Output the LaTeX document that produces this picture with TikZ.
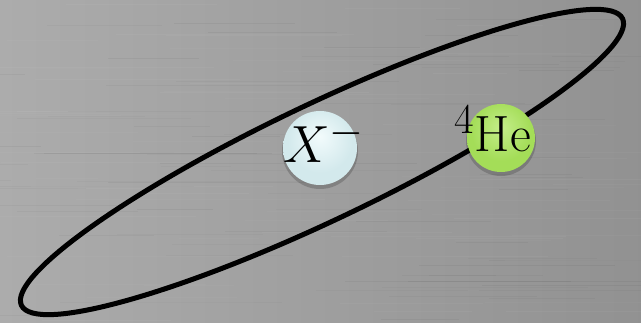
\documentclass[tikz,border=0pt]{standalone}
\usepackage{graphicx}
\usetikzlibrary{shadings}
\definecolor{xhi}{HTML}{F2FBFC}
\definecolor{xmid}{HTML}{D3E9EC}
\definecolor{xedge}{HTML}{A2BFC2}
\definecolor{ghi}{HTML}{C4EE8A}
\definecolor{gmid}{HTML}{A4DD58}
\definecolor{gedge}{HTML}{76AE34}
\pgfdeclareradialshading{xballshade}{\pgfpoint{0bp}{8bp}}{color(0bp)=(xhi); color(22bp)=(xmid); color(42bp)=(xmid); color(52bp)=(xedge); color(62bp)=(xedge)}
\pgfdeclareradialshading{gballshade}{\pgfpoint{0bp}{8bp}}{color(0bp)=(ghi); color(22bp)=(gmid); color(42bp)=(gmid); color(52bp)=(gedge); color(62bp)=(gedge)}
\tikzset{
  ballshadow/.style={fill=black, fill opacity=0.18, draw=none},
  orbit/.style={draw=black, line width=5pt},
  lab/.style={inner sep=0pt, anchor=base west},
  streak/.style={line width=1pt}
}
\begin{document}
\begin{tikzpicture}[x=1pt,y=1pt]
\useasboundingbox (0,0) rectangle (641,322);
% background
\shade[left color=black!35!white!93, right color=black!43] (0,0) rectangle (641,322);
\pgfmathsetseed{7}
\foreach \i in {1,...,140}{
  \pgfmathsetmacro{\yy}{rnd*322}
  \pgfmathsetmacro{\xx}{rnd*641-80}
  \pgfmathsetmacro{\ll}{60+rnd*200}
  \pgfmathsetmacro{\oo}{0.02+rnd*0.025}
  \ifodd\i
    \draw[streak, white, opacity=\oo] (\xx,\yy) -- ++(\ll,0);
  \else
    \draw[streak, black, opacity=\oo] (\xx,\yy) -- ++(\ll,0);
  \fi
}
% orbit
\draw[orbit, rotate around={25.5:(322,160)}] (322,160) ellipse [x radius=333pt, y radius=58pt];
% shadows
\fill[ballshadow] (320,171) circle (38pt);
\fill[ballshadow] (501,181) circle (35pt);
% balls
\node[circle, inner sep=0pt, minimum size=74pt, shade, shading=xballshade] (xb) at (320,174) {};
\node[circle, inner sep=0pt, minimum size=68pt, shade, shading=gballshade] (hb) at (501,184) {};
% labels
\node[lab] (xl) at (283,159) {\scalebox{2.1}{\Huge$X^{-}$}};
\node[lab] (hl) at (454,170) {\scalebox{2.05}{\Huge$^{4}$He}};
\end{tikzpicture}
\end{document}
